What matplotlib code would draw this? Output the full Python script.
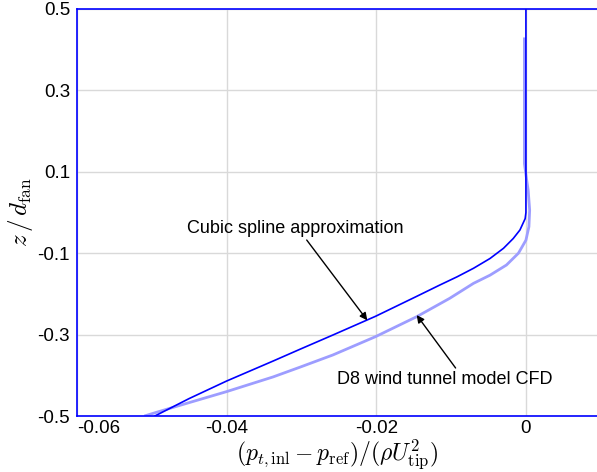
import matplotlib.pyplot as plt
import numpy as np

plt.rcParams["font.family"] = ["Liberation Sans", "DejaVu Sans"]
plt.rcParams["mathtext.fontset"] = "cm"

# cubic spline approximation (dark line)
spline_dp = [0.0, 0.0, 0.0, -0.0001, -0.0004, -0.0008, -0.0017, -0.0030, -0.0048,
             -0.0070, -0.0092, -0.0116, -0.0146, -0.0201, -0.0258, -0.0302,
             -0.0338, -0.0400, -0.0450, -0.0496]
spline_z = [0.5, 0.2, 0.0, -0.015, -0.027, -0.043, -0.064, -0.088, -0.113,
            -0.137, -0.158, -0.179, -0.206, -0.255, -0.301, -0.336,
            -0.365, -0.414, -0.457, -0.5]

# D8 wind tunnel model CFD (light line)
cfd_dp = [-0.0002, -0.0002, -0.0002, 0.0001, 0.0003, 0.0005, 0.0004, 0.0000, -0.0010,
          -0.0026, -0.0048, -0.0070, -0.0102, -0.0146, -0.0201, -0.0258,
          -0.0302, -0.0338, -0.0400, -0.0450, -0.0494, -0.0510]
cfd_z = [0.43, 0.25, 0.12, 0.08, 0.055, 0.006, -0.035, -0.068, -0.100,
         -0.129, -0.154, -0.174, -0.211, -0.256, -0.305, -0.350,
         -0.380, -0.404, -0.440, -0.467, -0.491, -0.5]

xticks = [-0.06, -0.04, -0.02, 0]
xticklabels = ["-0.06", "-0.04", "-0.02", "0"]
yticks = [0.5, 0.3, 0.1, -0.1, -0.3, -0.5]
yticklabels = ["0.5", "0.3", "0.1", "-0.1", "-0.3", "-0.5"]

fig = plt.figure(figsize=(5.97, 4.72), dpi=100)
ax = fig.add_axes([0.129, 0.1186, 0.871, 0.8624])

ax.plot(cfd_dp, cfd_z, color="#9d9dff", lw=2.0, solid_capstyle="butt")
ax.plot(spline_dp, spline_z, color="#0000ff", lw=1.2)

ax.set_xlim(-0.06, 0.0095)
ax.set_ylim(-0.5, 0.5)
ax.set_xticks(xticks)
ax.set_xticklabels(xticklabels, fontsize=13.5)
ax.set_yticks(yticks)
ax.set_yticklabels(yticklabels, fontsize=13.5)
ax.get_xticklabels()[0].set_horizontalalignment("left")
ax.tick_params(axis="x", length=0, pad=3)
ax.tick_params(axis="y", length=0, pad=5)
ax.grid(True, color="#d9d9d9", lw=1)
ax.set_axisbelow(True)

for side in ["left", "top", "bottom"]:
    ax.spines[side].set_color("#0000ff")
    ax.spines[side].set_linewidth(1.2)
ax.spines["right"].set_visible(False)

ax.set_xlabel(r"$(p_{t,\mathrm{inl}} - p_{\mathrm{ref}})/(\rho U_{\mathrm{tip}}^2)$", fontsize=17, labelpad=0)
ax.set_ylabel(r"$z\,/\,d_{\mathrm{fan}}$", fontsize=18, labelpad=2)

arrow = dict(arrowstyle="-|>", color="black", lw=1, mutation_scale=11, shrinkA=0, shrinkB=0)
ax.annotate("", xy=(-0.0212, -0.265), xytext=(-0.0293, -0.0676), arrowprops=arrow)
ax.annotate("", xy=(-0.0146, -0.252), xytext=(-0.0094, -0.382), arrowprops=arrow)
ax.text(-0.0308, -0.0405, "Cubic spline approximation", fontsize=13, ha="center", va="center")
ax.text(-0.0108, -0.4115, "D8 wind tunnel model CFD", fontsize=13, ha="center", va="center")

fig.savefig("out.png", dpi=100)
